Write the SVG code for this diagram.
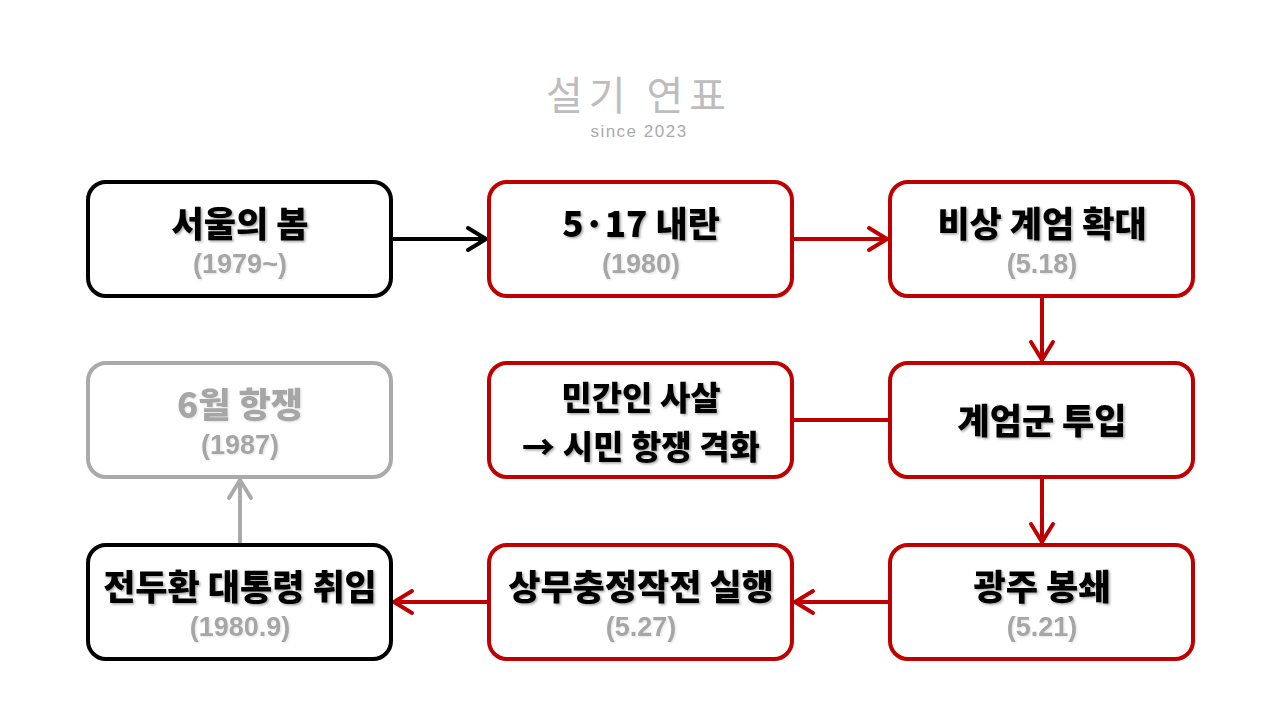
<svg xmlns="http://www.w3.org/2000/svg" width="1280" height="720" viewBox="0 0 1280 720">
<defs>
<filter id="sh" x="-10%" y="-20%" width="120%" height="150%">
<feDropShadow dx="1.5" dy="1.5" stdDeviation="1" flood-color="#000" flood-opacity="0.35"/>
</filter>
<filter id="sh2" x="-10%" y="-20%" width="120%" height="150%">
<feDropShadow dx="1" dy="1" stdDeviation="1" flood-color="#000" flood-opacity="0.12"/>
</filter>
<marker id="arR" viewBox="0 0 24 28" refX="22" refY="14" markerWidth="24" markerHeight="28" markerUnits="userSpaceOnUse" orient="auto">
<polyline points="3,3 21,14 3,25" fill="none" stroke="#C00000" stroke-width="4" stroke-linecap="round" stroke-linejoin="round"/>
</marker>
<marker id="arK" viewBox="0 0 24 28" refX="22" refY="14" markerWidth="24" markerHeight="28" markerUnits="userSpaceOnUse" orient="auto">
<polyline points="3,3 21,14 3,25" fill="none" stroke="#000" stroke-width="4" stroke-linecap="round" stroke-linejoin="round"/>
</marker>
<marker id="arG" viewBox="0 0 24 28" refX="22" refY="14" markerWidth="24" markerHeight="28" markerUnits="userSpaceOnUse" orient="auto">
<polyline points="3,3 21,14 3,25" fill="none" stroke="#AAAAAA" stroke-width="4" stroke-linecap="round" stroke-linejoin="round"/>
</marker>
</defs>
<style>
.box{fill:#fff;stroke-width:4}
.red{stroke:#C00000}
.blk{stroke:#000}
.gry{stroke:#AAAAAA}
.t{font-family:"Noto Sans CJK KR","Noto Sans",sans-serif;font-weight:900;font-size:35px;fill:#000;text-anchor:middle;filter:url(#sh)}
.t2{font-size:33px}
.tg{fill:#A6A6A6;filter:url(#sh2)}
.s{font-family:"Liberation Sans","Noto Sans CJK KR",sans-serif;font-weight:700;font-size:27px;fill:#A6A6A6;text-anchor:middle;filter:url(#sh2)}
.c{fill:none;stroke-width:4}
</style>
<rect width="1280" height="720" fill="#fff"/>
<g id="title">
<text x="639" y="110" font-family="'Noto Sans CJK KR',sans-serif" font-size="40" font-weight="400" fill="#BDBDBD" text-anchor="middle" letter-spacing="6">설기 연표</text>
<text x="639" y="137" font-family="'Liberation Sans','Noto Sans',sans-serif" font-size="17" fill="#AAAAAA" text-anchor="middle" letter-spacing="1.5">since 2023</text>
</g>
<g id="connectors">
<line class="c blk" x1="391" y1="239" x2="487" y2="239" marker-end="url(#arK)"/>
<line class="c red" x1="792" y1="239" x2="888" y2="239" marker-end="url(#arR)"/>
<line class="c red" x1="1042" y1="296" x2="1042" y2="361" marker-end="url(#arR)"/>
<line class="c red" x1="792" y1="420" x2="890" y2="420"/>
<line class="c red" x1="1042" y1="477" x2="1042" y2="543" marker-end="url(#arR)"/>
<line class="c red" x1="890" y1="602" x2="794" y2="602" marker-end="url(#arR)"/>
<line class="c red" x1="489" y1="602" x2="393" y2="602" marker-end="url(#arR)"/>
<line class="c gry" x1="240" y1="545" x2="240" y2="479" marker-end="url(#arG)"/>
</g>
<g id="n1">
<rect class="box blk" x="88" y="182" width="303" height="114" rx="18"/>
<text class="t" x="240" y="237">서울의 봄</text>
<text class="s" x="240" y="273">(1979~)</text>
</g>
<g id="n2">
<rect class="box red" x="489" y="182" width="303" height="114" rx="18"/>
<text class="t" x="641" y="237">5·17 내란</text>
<text class="s" x="641" y="273">(1980)</text>
</g>
<g id="n3">
<rect class="box red" x="890" y="182" width="303" height="114" rx="18"/>
<text class="t" x="1042" y="237">비상 계엄 확대</text>
<text class="s" x="1042" y="273">(5.18)</text>
</g>
<g id="n4">
<rect class="box red" x="890" y="363" width="303" height="114" rx="18"/>
<text class="t" x="1042" y="434">계엄군 투입</text>
</g>
<g id="n5">
<rect class="box red" x="489" y="363" width="303" height="114" rx="18"/>
<text class="t t2" x="641" y="410">민간인 사살</text>
<text class="t t2" x="641" y="459">→ 시민 항쟁 격화</text>
</g>
<g id="n6">
<rect class="box gry" x="88" y="363" width="303" height="114" rx="18"/>
<text class="t tg" x="240" y="418">6월 항쟁</text>
<text class="s" x="240" y="454">(1987)</text>
</g>
<g id="n7">
<rect class="box red" x="890" y="545" width="303" height="114" rx="18"/>
<text class="t" x="1042" y="600">광주 봉쇄</text>
<text class="s" x="1042" y="636">(5.21)</text>
</g>
<g id="n8">
<rect class="box red" x="489" y="545" width="303" height="114" rx="18"/>
<text class="t" x="641" y="600">상무충정작전 실행</text>
<text class="s" x="641" y="636">(5.27)</text>
</g>
<g id="n9">
<rect class="box blk" x="88" y="545" width="303" height="114" rx="18"/>
<text class="t" x="240" y="600">전두환 대통령 취임</text>
<text class="s" x="240" y="636">(1980.9)</text>
</g>
</svg>
